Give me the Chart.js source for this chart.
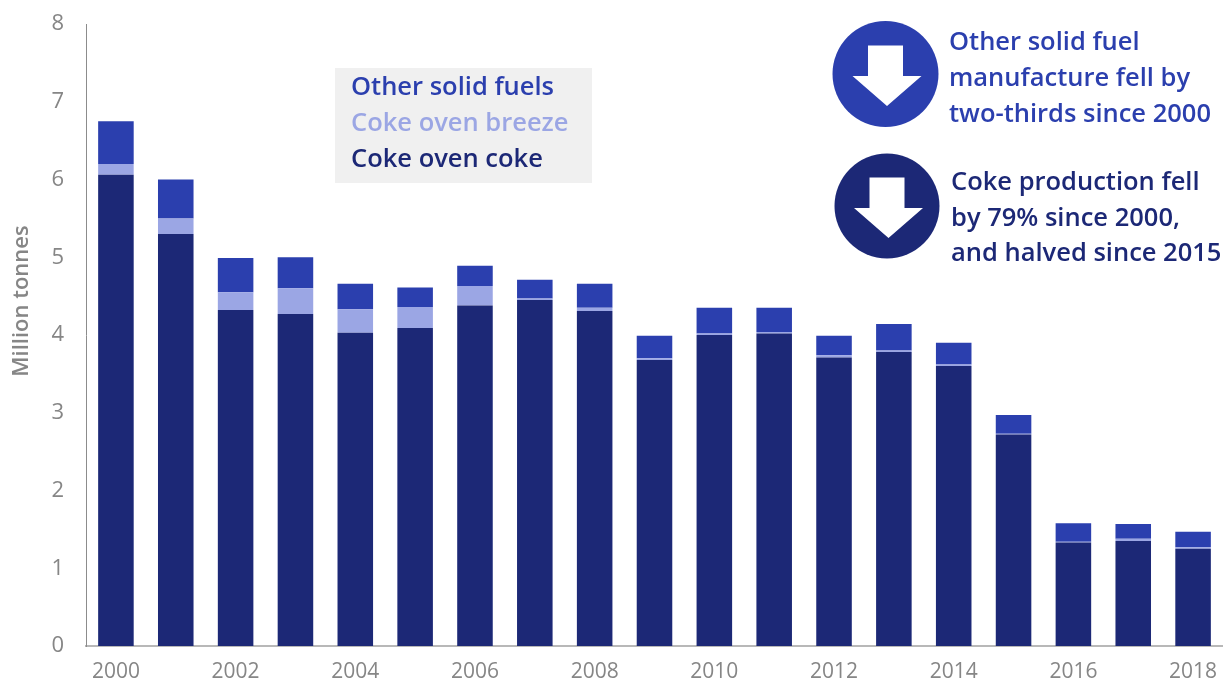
<!DOCTYPE html>
<html>
<head>
<meta charset="utf-8">
<title>Solid fuel manufacture</title>
<script src="https://cdn.jsdelivr.net/npm/chart.js@4"></script>
<style>
    html, body { margin: 0; padding: 0; background: #fff; overflow: hidden; }
    #chart-box { width: 1223px; height: 682px; }
</style>
</head>
<body>
<div id="chart-box"><canvas id="fuel-chart"></canvas></div>
<script>
const years = ["2000", "2001", "2002", "2003", "2004", "2005", "2006", "2007", "2008", "2009",
    "2010", "2011", "2012", "2013", "2014", "2015", "2016", "2017", "2018"];
const cokeOvenCoke = [6.06, 5.30, 4.32, 4.27, 4.03, 4.09, 4.38, 4.45, 4.31, 3.68,
    4.00, 4.02, 3.71, 3.78, 3.60, 2.72, 1.33, 1.35, 1.25];
const cokeOvenBreeze = [0.14, 0.20, 0.23, 0.33, 0.30, 0.27, 0.25, 0.02, 0.04, 0.02,
    0.02, 0.02, 0.03, 0.02, 0.02, 0.01, 0.01, 0.03, 0.02];
const otherSolidFuels = [0.55, 0.50, 0.44, 0.40, 0.33, 0.25, 0.26, 0.24, 0.31, 0.29,
    0.33, 0.31, 0.25, 0.34, 0.28, 0.24, 0.24, 0.19, 0.20];

const otherColor = "#2b3fae";
const breezeColor = "#9ba6e4";
const cokeColor = "#1c2876";
const greyText = "#868686";
const fontFamily = "'Open Sans', sans-serif";

const axisTitle = "Million tonnes";
const legendLines = [
    { text: "Other solid fuels", color: otherColor },
    { text: "Coke oven breeze", color: breezeColor },
    { text: "Coke oven coke", color: cokeColor }
];
const otherNote = ["Other solid fuel", "manufacture fell by", "two-thirds since 2000"];
const cokeNote = ["Coke production fell", "by 79% since 2000,", "and halved since 2015"];

// White down arrow inside a filled circle
function drawArrowBadge(ctx, cx, cy, r, color) {
    ctx.fillStyle = color;
    ctx.beginPath();
    ctx.arc(cx, cy, r, 0, Math.PI * 2);
    ctx.fill();
    ctx.fillStyle = "#fff";
    ctx.beginPath();
    ctx.moveTo(cx - 17.5, cy - 28.5);
    ctx.lineTo(cx + 17.5, cy - 28.5);
    ctx.lineTo(cx + 17.5, cy + 2);
    ctx.lineTo(cx + 36, cy + 2);
    ctx.lineTo(cx + 1.5, cy + 32);
    ctx.lineTo(cx - 33, cy + 2);
    ctx.lineTo(cx - 17.5, cy + 2);
    ctx.closePath();
    ctx.fill();
}

// Axis title, legend box and the two callouts sit on top of the plot
const overlayPlugin = {
    id: "overlay",
    afterDraw(chart) {
        const ctx = chart.ctx;
        ctx.save();

        // the axis title sits above the middle of the axis, so it is placed by hand
        ctx.save();
        ctx.translate(22, 301);
        ctx.rotate(-Math.PI / 2);
        ctx.textAlign = "center";
        ctx.textBaseline = "middle";
        ctx.fillStyle = greyText;
        ctx.font = "600 22px " + fontFamily;
        ctx.fillText(axisTitle, 0, 0);
        ctx.restore();

        ctx.fillStyle = "#f0f0f0";
        ctx.fillRect(335, 68, 257, 115);
        ctx.textAlign = "left";
        ctx.textBaseline = "alphabetic";
        ctx.font = "600 25.5px " + fontFamily;
        legendLines.forEach((line, i) => {
            ctx.fillStyle = line.color;
            ctx.fillText(line.text, 351, 95 + i * 36);
        });

        drawArrowBadge(ctx, 885.5, 74, 53, otherColor);
        drawArrowBadge(ctx, 887, 206, 52.5, cokeColor);

        ctx.fillStyle = otherColor;
        otherNote.forEach((text, i) => ctx.fillText(text, 949, 50 + i * 36));
        ctx.fillStyle = cokeColor;
        cokeNote.forEach((text, i) => ctx.fillText(text, 951, 190 + i * 35.5));
        ctx.restore();
    }
};

new Chart(document.getElementById("fuel-chart"), {
    type: "bar",
    data: {
        labels: years,
        datasets: [
            { label: "Coke oven coke", data: cokeOvenCoke, backgroundColor: cokeColor },
            { label: "Coke oven breeze", data: cokeOvenBreeze, backgroundColor: breezeColor },
            { label: "Other solid fuels", data: otherSolidFuels, backgroundColor: otherColor }
        ]
    },
    options: {
        responsive: true,
        maintainAspectRatio: false,
        animation: false,
        layout: { padding: { top: 24, left: 0, right: 0, bottom: 0 } },
        datasets: { bar: { barPercentage: 0.594, categoryPercentage: 1 } },
        plugins: {
            legend: { display: false },
            tooltip: { enabled: false }
        },
        scales: {
            x: {
                stacked: true,
                afterFit: (scale) => {
                    scale.height = 36;
                    scale.paddingLeft = 0;
                    scale.paddingRight = 0;
                },
                grid: { display: false, drawTicks: false },
                border: { color: "#b8b8b8", width: 2 },
                ticks: {
                    autoSkip: false,
                    maxRotation: 0,
                    padding: 13,
                    color: greyText,
                    font: { family: fontFamily, size: 21 },
                    callback: function (value, index) {
                        return index % 2 === 0 ? this.getLabelForValue(value) : "";
                    }
                }
            },
            y: {
                stacked: true,
                min: 0,
                max: 8,
                afterFit: (scale) => {
                    scale.width = 86;
                    scale.paddingTop = 0;
                    scale.paddingBottom = 0;
                },
                grid: { display: false, drawTicks: false },
                border: { color: "#8c8c8c", width: 1 },
                ticks: {
                    stepSize: 1,
                    padding: 22,
                    color: greyText,
                    font: { family: fontFamily, size: 22 }
                }
            }
        }
    },
    plugins: [overlayPlugin]
});
</script>
</body>
</html>
